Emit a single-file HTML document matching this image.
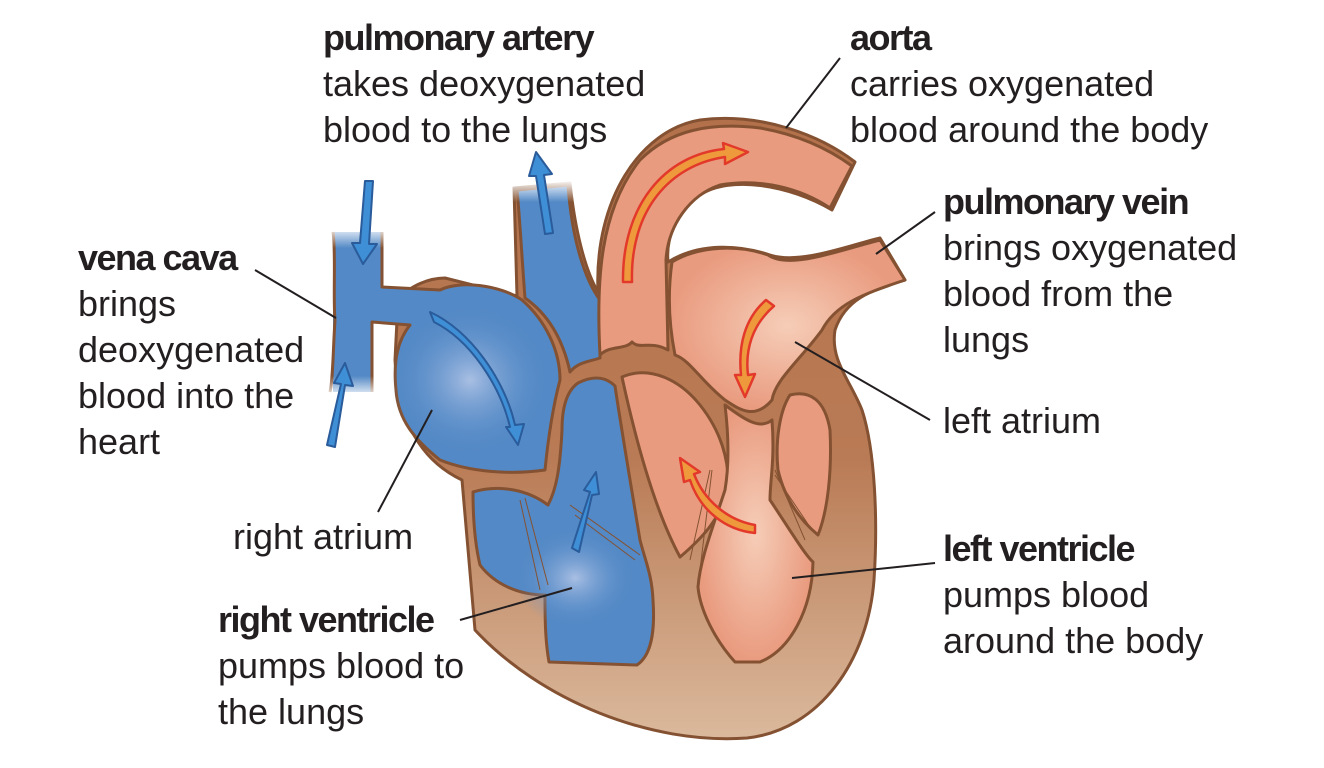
<!DOCTYPE html>
<html><head><meta charset="utf-8"><style>
html,body{margin:0;padding:0;background:#fff;}
body{width:1324px;height:768px;position:relative;overflow:hidden;font-family:"Liberation Sans",Arial,sans-serif;color:#231f20;}
.t{position:absolute;font-size:36px;line-height:46px;white-space:nowrap;}
.t b{font-weight:bold;letter-spacing:-1.5px;}
svg{position:absolute;left:0;top:0;}
</style></head><body>
<svg width="1324" height="768" viewBox="0 0 1324 768">
<defs>
<linearGradient id="bg" x1="0" y1="0" x2="0" y2="1">
<stop offset="0" stop-color="#b3714b"/><stop offset="0.55" stop-color="#b97b55"/><stop offset="1" stop-color="#dbb99c"/></linearGradient>
<radialGradient id="bl" cx="0.5" cy="0.5" r="0.5"><stop offset="0" stop-color="#a9bfe3"/><stop offset="1" stop-color="#5389c6" stop-opacity="0"/></radialGradient>
<radialGradient id="pk" cx="0.5" cy="0.5" r="0.5"><stop offset="0" stop-color="#f6cdb8"/><stop offset="1" stop-color="#e99b7f"/></radialGradient>
<linearGradient id="wt" x1="0" y1="0" x2="0" y2="1"><stop offset="0" stop-color="#fff"/><stop offset="1" stop-color="#fff" stop-opacity="0"/></linearGradient>
<linearGradient id="wb" x1="0" y1="0" x2="0" y2="1"><stop offset="0" stop-color="#fff" stop-opacity="0"/><stop offset="1" stop-color="#fff"/></linearGradient>
</defs>
<g stroke="#845232" stroke-width="3" stroke-linejoin="round">
<!-- heart body -->
<path fill="url(#bg)" d="M398,300 C410,285 430,278 445,278 L517,296 L514,188 L570,183 C575,230 585,270 598,292 C594,200 640,130 700,120 C760,112 820,135 855,162 L832,210 C790,185 730,175 700,195 C675,210 666,240 668,262 C700,242 740,245 770,255 C800,265 850,245 880,238 L905,280 C870,290 845,300 835,330 C830,360 850,380 862,410 C875,450 878,520 874,580 C868,660 820,730 747,738 C650,745 540,700 475,630 L462,480 C420,460 398,420 395,360 Z"/>
<!-- vena cava + right atrium -->
<path fill="#5389c6" stroke="none" d="M333,232 H382 V287 L440,290 C460,280 500,285 522,300 C545,320 560,350 560,380 C552,410 548,440 545,470 C510,475 470,472 440,460 C415,440 398,420 396,390 C393,360 398,340 410,325 L372,322 V392 H333 Z"/>
<path fill="none" d="M382,232 V287 L440,290 C460,280 500,285 522,300 C545,320 560,350 560,380 C552,410 548,440 545,470 C510,475 470,472 440,460 C415,440 398,420 396,390 C393,360 398,340 410,325 L372,322 V392"/>
<path fill="none" d="M333,232 C336,250 333,300 335,320 C333,350 333,380 330,392"/>
<ellipse cx="470" cy="380" rx="80" ry="75" fill="url(#bl)" stroke="none"/>
<!-- pulmonary artery -->
<path fill="#5389c6" d="M517,190 L568,185 C572,240 585,280 600,300 L600,358 C588,362 578,362 570,372 C562,335 545,312 525,298 C522,260 520,220 517,190 Z"/>
<!-- right ventricle -->
<path fill="#5389c6" d="M473,492 C500,484 528,490 548,505 C556,490 560,470 562,430 C562,405 568,390 578,383 C592,376 605,376 615,386 C620,420 630,480 640,540 C645,560 652,575 653,600 C655,630 652,655 637,665 L549,662 C545,640 545,615 545,595 C520,595 495,585 480,565 C474,540 473,515 473,492 Z"/>
<ellipse cx="575" cy="578" rx="60" ry="50" fill="url(#bl)" stroke="none"/>
<!-- aorta -->
<path fill="#e99b7f" d="M600,355 C596,280 600,210 640,160 C670,130 710,122 760,128 C800,135 830,150 852,166 L830,208 C800,188 760,178 720,185 C690,195 668,225 666,260 L668,350 C650,340 640,350 632,342 C625,350 610,345 600,355 Z"/>
<!-- left atrium -->
<path fill="url(#pk)" d="M672,262 C700,245 740,245 768,255 C790,270 840,250 880,240 L905,280 C860,295 835,305 822,330 C800,360 775,380 772,400 C755,420 740,410 725,400 C700,380 690,360 675,355 C668,320 668,290 672,262 Z"/>
<!-- left ventricle upper-left chamber -->
<path fill="#e99b7f" d="M622,377 C650,365 680,380 700,405 C720,430 730,460 728,490 C720,520 700,540 680,557 C660,520 640,460 622,377 Z"/>
<!-- left ventricle main -->
<path fill="url(#pk)" d="M725,405 C745,420 760,430 772,420 C775,460 770,480 770,500 C790,530 805,555 813,562 C812,610 790,650 760,662 L735,662 C715,640 700,610 698,587 C700,560 712,530 725,490 C730,460 728,430 725,405 Z"/>
<!-- right small chamber -->
<path fill="#e99b7f" d="M790,395 C810,390 825,400 830,430 C832,470 828,510 818,535 C800,520 785,500 778,470 C775,440 780,410 790,395 Z"/>
</g>
<!-- tube fades -->
<rect x="325" y="226" width="65" height="22" fill="url(#wt)"/>
<rect x="322" y="376" width="56" height="22" fill="url(#wb)"/>
<rect x="510" y="180" width="66" height="22" fill="url(#wt)"/>
<!-- chordae -->
<g stroke="#845232" stroke-width="1" fill="none">
<path d="M570,505 L640,555 M575,515 L635,560 M710,470 L690,560 M712,470 L700,570 M775,470 L805,540 M775,475 L812,530 M520,500 L540,590 M525,498 L548,585"/>
</g>
<!-- blue arrows -->
<g fill="#3f8fd6" stroke="#2a5b9a" stroke-width="2" stroke-linejoin="round">
<polygon points="365,181 373,181 369,244 377,244 363,264 352,243 360,243"/>
<polygon points="327,445 335,447 345,385 353,386 345,363 334,383 341,384"/>
<polygon points="545,234 553,233 544,175 552,174 536,152 529,176 536,176"/>
<polygon points="572,548 579,552 592,495 599,494 596,472 584,490 590,492"/>
<path d="M430,312 C470,330 505,380 515,425 L524,424 L518,445 L506,427 L510,427 C500,385 470,340 434,322 Z"/>
</g>
<!-- red arrows -->
<g fill="#ee9a3c" stroke="#e3392b" stroke-width="2.5" stroke-linejoin="round">
<path d="M623,282 L632,282 C630,210 670,165 725,157 L725,164 L748,152 L723,143 L724,149 C665,155 622,205 623,282 Z"/>
<path d="M766,300 L774,306 C752,325 745,350 748,375 L755,374 L745,397 L735,375 L741,375 C738,345 745,318 766,300 Z"/>
<path d="M755,525 L755,533 C725,530 700,510 690,480 L684,482 L680,458 L700,472 L694,474 C704,500 727,520 755,525 Z"/>
</g>
<!-- leader lines -->
<g stroke="#231f20" stroke-width="2">
<line x1="840" y1="58" x2="786" y2="128"/>
<line x1="935" y1="212" x2="876" y2="254"/>
<line x1="930" y1="420" x2="795" y2="342"/>
<line x1="935" y1="563" x2="792" y2="578"/>
<line x1="255" y1="270" x2="336" y2="318"/>
<line x1="378" y1="512" x2="432" y2="410"/>
<line x1="460" y1="620" x2="572" y2="588"/>
</g>
</svg>
<div class="t" style="left:323px;top:15px"><b>pulmonary artery</b><br>takes deoxygenated<br>blood to the lungs</div>
<div class="t" style="left:850px;top:15px"><b>aorta</b><br>carries oxygenated<br>blood around the body</div>
<div class="t" style="left:943px;top:179px"><b>pulmonary vein</b><br>brings oxygenated<br>blood from the<br>lungs</div>
<div class="t" style="left:943px;top:398px">left atrium</div>
<div class="t" style="left:943px;top:526px"><b>left ventricle</b><br>pumps blood<br>around the body</div>
<div class="t" style="left:78px;top:235px"><b>vena cava</b><br>brings<br>deoxygenated<br>blood into the<br>heart</div>
<div class="t" style="left:233px;top:514px">right atrium</div>
<div class="t" style="left:218px;top:597px"><b>right ventricle</b><br>pumps blood to<br>the lungs</div>
</body></html>
